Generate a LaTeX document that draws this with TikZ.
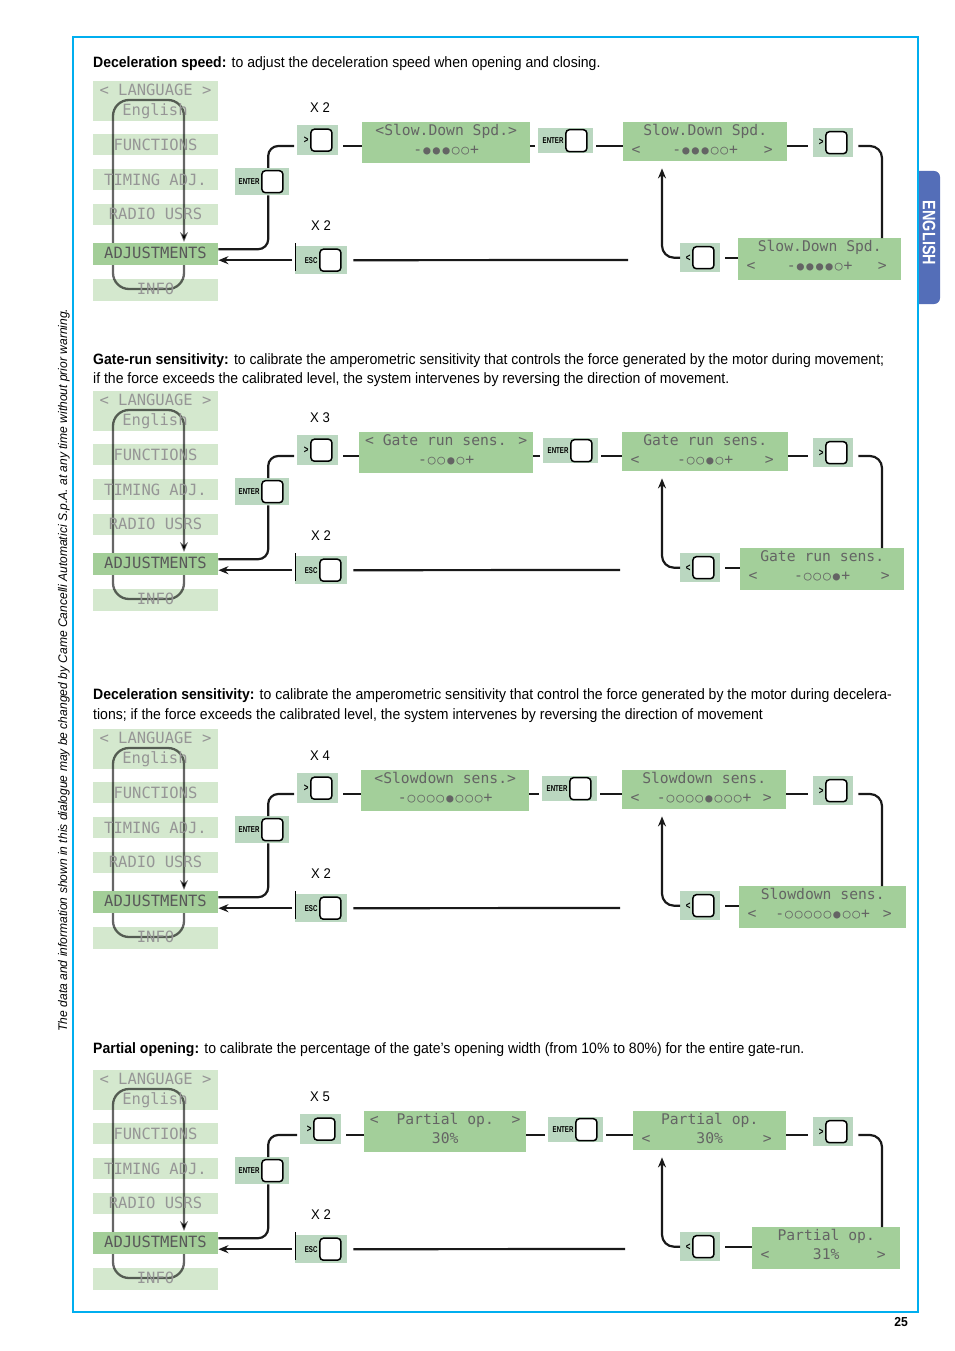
\documentclass[tikz,border=0pt]{standalone}
\usepackage{fontspec}
\setmainfont{Liberation Sans}
\newfontfamily\headfont{Liberation Sans}[FakeStretch=0.935]
\newfontfamily\sidefont{Liberation Sans}[FakeStretch=0.965]
\newfontfamily\tabfont{Liberation Sans}[FakeStretch=0.8]
\newfontfamily\lcdfont{DejaVu Sans Mono}
\newfontfamily\btnfont{Liberation Sans}[FakeStretch=0.72]
\usetikzlibrary{arrows.meta}
\definecolor{framecyan}{RGB}{0,174,239}
\definecolor{tabblue}{RGB}{84,110,184}
\definecolor{menulight}{RGB}{212,232,206}
\definecolor{menudark}{RGB}{163,206,152}
\definecolor{lcdgreen}{RGB}{163,207,154}
\definecolor{btngreen}{RGB}{186,215,192}
\definecolor{lcdtext}{RGB}{100,100,100}
\definecolor{menutextc}{RGB}{150,150,150}
\newcommand\on{\makebox[9.6pt]{\fontsize{12}{12}\selectfont ●}}
\newcommand\off{\makebox[9.6pt]{\fontsize{13}{13}\selectfont ○}}
\tikzset{
  conn/.style={line width=2.2pt, draw=black!90},
  tipped/.style={-{Stealth[length=10pt,width=8pt]}},
  menubox/.style={fill=menulight, draw=none, inner sep=0pt, minimum width=125pt, anchor=north west},
  lcdbox/.style={fill=lcdgreen, draw=none, inner sep=0pt, anchor=north west},
  lcdtxt/.style={inner sep=0pt, anchor=mid, text=lcdtext, font=\lcdfont\fontsize{14.7}{16}\selectfont},
  menutxt/.style={inner sep=0pt, anchor=mid, text=menutextc, font=\lcdfont\fontsize{15.5}{16}\selectfont},
  btnbox/.style={fill=btngreen, draw=none, inner sep=0pt, anchor=north west},
  btnsq/.style={draw=black, line width=1.5pt, fill=white, rounded corners=3.5pt, minimum width=21pt, minimum height=22pt, inner sep=0pt},
  btnlbl/.style={inner sep=0pt, anchor=east, font=\btnfont\bfseries\fontsize{8.5}{9}\selectfont},
  xlbl/.style={inner sep=0pt, anchor=mid, font=\headfont\fontsize{14}{15}\selectfont},
  head/.style={inner sep=0pt, anchor=base west, font=\headfont\fontsize{15}{16}\selectfont},
  loopline/.style={line width=2.3pt, draw=black, draw opacity=0.6, rounded corners=16pt},
}
\newcommand\arr[1]{{\fontsize{11}{11}\selectfont #1}}
\newcommand\pbtn[6]{%
  \node[btnbox, minimum width=#4pt, minimum height=#5pt] (#1) at (#2,#3) {};
  \node[btnsq] (#1sq) at ([xshift=-17pt]#1.east) {};
  \node[btnlbl] (#1lb) at ([xshift=-1.5pt]#1sq.west) {#6};
}
\newcommand\lcdA[7]{%
  \node[lcdbox, minimum width=#4pt, minimum height=#5pt] (#1) at (#2,#3) {};
  \node[lcdtxt] (#1a) at ([yshift=-11pt]#1.north) {#6};
  \node[lcdtxt] (#1b) at ([yshift=-30pt]#1.north) {#7};
}
\newcommand\lcdB[7]{%
  \node[lcdbox, minimum width=#4pt, minimum height=#5pt] (#1) at (#2,#3) {};
  \node[lcdtxt] (#1a) at ([yshift=-11pt]#1.north) {#6};
  \node[lcdtxt] (#1b) at ([yshift=-30pt]#1.north) {#7};
  \node[lcdtxt] (#1l) at ([shift={(13pt,-30pt)}]#1.north west) {<};
  \node[lcdtxt] (#1r) at ([shift={(-19pt,-30pt)}]#1.north east) {>};
}
\newcommand\panel[2]{%
\begin{scope}[shift={(0,#2)}]
  \node[menubox, minimum height=40pt] (#1lang) at (93,81) {};
  \node[menubox, minimum height=21pt] (#1func) at (93,134) {};
  \node[menubox, minimum height=21pt] (#1tim) at (93,169) {};
  \node[menubox, minimum height=21pt] (#1rad) at (93,204) {};
  \node[menubox, minimum height=22pt] (#1info) at (93,279) {};
  \draw[loopline, tipped] (184,265) -- (184,289) -- (113,289) -- (113,100) -- (184,100) -- (184,242);
  \node[menubox, fill=menudark, minimum height=22pt] (#1adj) at (93,243) {};
  \node[menutxt] (#1t1) at (155.5,93) {< LANGUAGE >};
  \node[menutxt] (#1t2) at (155,113) {English};
  \node[menutxt] (#1t3) at (155.5,147.5) {FUNCTIONS};
  \node[menutxt] (#1t4) at (155.5,182.5) {TIMING ADJ.};
  \node[menutxt] (#1t5) at (155.5,217) {RADIO USRS};
  \node[menutxt, text=black!65] (#1t6) at (155.5,256) {ADJUSTMENTS};
  \node[menutxt] (#1t7) at (155.5,292) {INFO};
  \pbtn{#1ent1}{235}{168}{54}{27}{ENTER}
  \pbtn{#1gt}{\GTx}{125}{41}{30}{\arr{>}}
  \pbtn{#1ent2}{\EBx}{128}{55}{25}{ENTER}
  \pbtn{#1gt2}{813}{128}{40}{29}{\arr{>}}
  \pbtn{#1lt}{680}{243}{40}{29}{\arr{<}}
  \pbtn{#1esc}{295}{246}{52}{28}{ESC}
  \draw[black, line width=0.9pt] ([yshift=3pt]#1esc.north west) -- ([yshift=3pt]#1esc.south west);
  \node[xlbl] (#1xa) at (320,110) {X \CNT};
  \node[xlbl] (#1xb) at (321,228) {X 2};
  \lcdA{#1l1}{\LAx}{122}{\LAw}{41}{\LAa}{\LAb}
  \lcdB{#1l2}{\LBx}{122}{\LBw}{39}{\LBa}{\LBb}
  \lcdB{#1l3}{\LCx}{238}{\LCw}{42}{\LCa}{\LCb}
  \coordinate (#1row) at (0,146);
  \coordinate (#1vr) at (882,0);
  \coordinate (#1vl) at (662,0);
  \coordinate (#1escend) at (\ESCend,260);
  \draw[conn, rounded corners=10pt] ([yshift=5pt]#1adj.east) -| ([xshift=6pt]#1ent1.south);
  \draw[conn, rounded corners=10pt, shorten >=3pt] ([xshift=6pt]#1ent1.north) |- (#1gt.west |- #1row);
  \draw[conn, shorten <=5pt] (#1gt.east |- #1row) -- (#1l1.west |- #1row);
  \draw[conn, shorten >=3pt] (#1l1.east |- #1row) -- (#1ent2.west |- #1row);
  \draw[conn, shorten <=3pt] (#1ent2.east |- #1row) -- (#1l2.west |- #1row);
  \draw[conn, shorten >=5pt] (#1l2.east |- #1row) -- (#1gt2.west |- #1row);
  \draw[conn, rounded corners=12pt, shorten <=5pt] (#1gt2.east |- #1row) -| (#1l3.north -| #1vr);
  \draw[conn, shorten <=5pt] (#1lt.east) -- (#1l3.west |- #1lt.east);
  \draw[conn, tipped, rounded corners=12pt, shorten >=7pt] (#1lt.west) -| (#1l2.south -| #1vl);
  \draw[conn, tipped, shorten <=3pt] (#1esc.west) -- (#1adj.east |- #1esc.west);
  \draw[conn, shorten <=6pt] (#1esc.east) -- (#1escend);
\end{scope}}
\begin{document}
\begin{tikzpicture}[x=1pt, y=-1pt]
\useasboundingbox (0,0) rectangle (954,1351);
\fill[white] (0,0) rectangle (954,1351);
% tab and frame
\fill[tabblue, rounded corners=6pt] (912,171) rectangle (940,304);
\fill[tabblue] (912,171) rectangle (925,304);
\fill[white] (905,165) rectangle (918,310);
\draw[framecyan, line width=1.2pt] (73,37) rectangle (918,1312);
\node[rotate=-90, text=white, inner sep=0pt, font=\tabfont\bfseries\fontsize{18}{18}\selectfont] (tab) at (929,233) {ENGLISH};
\node[rotate=90, inner sep=0pt, font=\sidefont\itshape\fontsize{12.5}{13}\selectfont] (side) at (64,670) {The data and information shown in this dialogue may be changed by Came Cancelli Automatici S.p.A. at any time without prior warning.};
\node[inner sep=0pt, font=\headfont\bfseries\fontsize{13}{13}\selectfont] (pg) at (901,1322) {25};
% headings
\node[head] (h1) at (93,68) {\textbf{Deceleration speed:} to adjust the deceleration speed when opening and closing.};
\node[head] (h2a) at (93,364) {\textbf{Gate-run sensitivity:} to calibrate the amperometric sensitivity that controls the force generated by the motor during movement;};
\node[head] (h2b) at (93,383) {if the force exceeds the calibrated level, the system intervenes by reversing the direction of movement.};
\node[head] (h3a) at (93,699) {\textbf{Deceleration sensitivity:} to calibrate the amperometric sensitivity that control the force generated by the motor during decelera-};
\node[head] (h3b) at (93,719) {tions; if the force exceeds the calibrated level, the system intervenes by reversing the direction of movement};
\node[head] (h4) at (93,1053) {\textbf{Partial opening:} to calibrate the percentage of the gate’s opening width (from 10\% to 80\%) for the entire gate-run.};
% panel 1
\def\CNT{2}\def\GTx{297}\def\LAx{362}\def\LAw{168}\def\EBx{538}\def\LBx{623}\def\LBw{164}\def\LCx{738}\def\LCw{163}\def\ESCend{628}
\def\LAa{<Slow.Down Spd.>}\def\LAb{-\on\on\on\off\off+}\def\LBa{Slow.Down Spd.}\def\LBb{-\on\on\on\off\off+}\def\LCa{Slow.Down Spd.}\def\LCb{-\on\on\on\on\off+}
\panel{a}{0}
% panel 2
\def\CNT{3}\def\GTx{297}\def\LAx{359}\def\LAw{174}\def\EBx{543}\def\LBx{622}\def\LBw{166}\def\LCx{740}\def\LCw{164}\def\ESCend{620}
\def\LAa{< Gate run sens. >}\def\LAb{-\off\off\on\off+}\def\LBa{Gate run sens.}\def\LBb{-\off\off\on\off+}\def\LCa{Gate run sens.}\def\LCb{-\off\off\off\on+}
\panel{b}{310}
% panel 3
\def\CNT{4}\def\GTx{297}\def\LAx{361}\def\LAw{168}\def\EBx{542}\def\LBx{622}\def\LBw{164}\def\LCx{739}\def\LCw{167}\def\ESCend{620}
\def\LAa{<Slowdown sens.>}\def\LAb{-\off\off\off\off\on\off\off\off+}\def\LBa{Slowdown sens.}\def\LBb{-\off\off\off\off\on\off\off\off+}\def\LCa{Slowdown sens.}\def\LCb{-\off\off\off\off\off\on\off\off+}
\panel{c}{648}
% panel 4
\def\CNT{5}\def\GTx{300}\def\LAx{364}\def\LAw{162}\def\EBx{548}\def\LBx{633}\def\LBw{153}\def\LCx{752}\def\LCw{148}\def\ESCend{625}
\def\LAa{<\ \ Partial op.\ \ >}\def\LAb{30\%}\def\LBa{Partial op.}\def\LBb{30\%}\def\LCa{Partial op.}\def\LCb{31\%}
\panel{d}{989}
\end{tikzpicture}
\end{document}
